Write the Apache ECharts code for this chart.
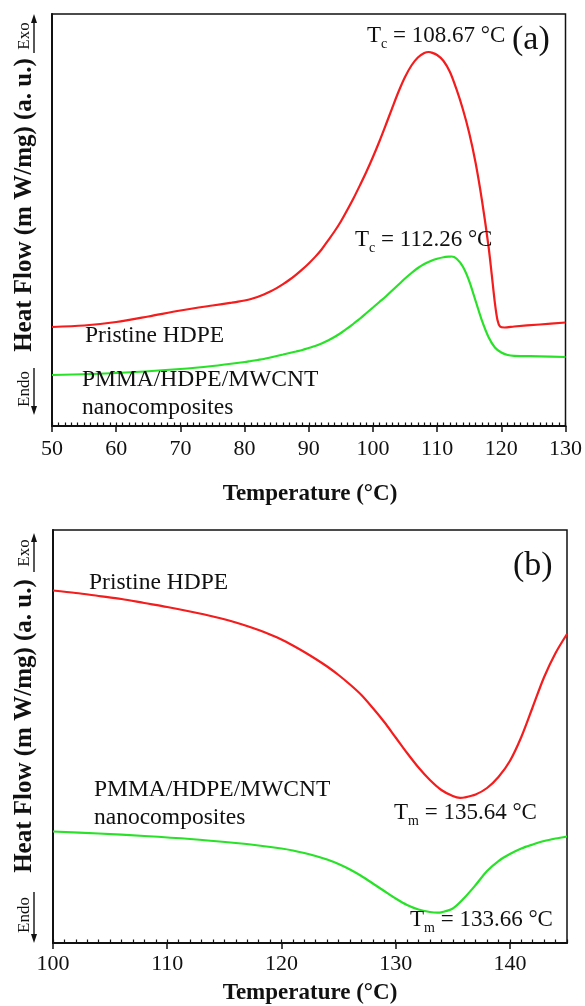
<!DOCTYPE html>
<html>
<head>
<meta charset="utf-8">
<script src="https://cdn.jsdelivr.net/npm/echarts@6/dist/echarts.min.js"></script>
<style>
  html, body { margin: 0; padding: 0; background: #fff; }
  #chart { width: 585px; height: 1006px; }
</style>
</head>
<body>
<div id="chart"></div>
<script>
// (a) cooling scans: temperature (°C) and heat flow (a. u.)
const coolTempHDPE = [50, 55, 60, 65, 70, 75, 78, 79, 80, 81, 82, 83, 84, 85, 86, 87, 88, 89, 90, 91, 92, 93, 94, 95, 96, 97, 98, 99, 100, 101, 102, 103, 104, 105, 106, 107, 108, 108.67, 109, 110, 111, 112, 113, 114, 115, 116, 117, 118, 118.5, 119, 119.4, 119.8, 120.5, 122, 126, 130];
const coolFlowHDPE = [24.03, 24.39, 25.24, 26.58, 28.03, 29.25, 29.93, 30.17, 30.46, 30.82, 31.30, 31.90, 32.62, 33.46, 34.42, 35.50, 36.70, 38.02, 39.46, 41.05, 42.85, 45.02, 47.21, 49.64, 52.43, 55.34, 58.50, 61.77, 65.29, 69.05, 73.06, 77.18, 81.19, 84.71, 87.50, 89.44, 90.53, 90.78, 90.70, 90.05, 88.59, 85.92, 81.80, 76.94, 71.12, 63.83, 54.61, 43.69, 36.89, 29.85, 25.73, 24.15, 23.91, 24.15, 24.64, 25.12];
const coolTempComp = [50, 60, 70, 75, 80, 81, 82, 83, 84, 85, 86, 87, 88, 89, 90, 91, 92, 93, 94, 95, 96, 97, 98, 99, 100, 101, 102, 103, 104, 105, 106, 107, 108, 109, 110, 111, 112, 112.26, 113, 114, 115, 116, 117, 118, 119, 120, 121, 122, 126, 130];
const coolFlowComp = [12.38, 12.86, 13.83, 14.56, 15.53, 15.78, 16.02, 16.26, 16.63, 16.99, 17.35, 17.72, 18.08, 18.45, 18.93, 19.42, 20.02, 20.75, 21.60, 22.57, 23.67, 24.88, 26.09, 27.43, 28.76, 30.10, 31.43, 32.89, 34.34, 35.80, 37.14, 38.35, 39.32, 40.05, 40.58, 40.95, 41.12, 41.14, 40.66, 38.71, 35.19, 30.34, 25.49, 21.60, 19.05, 17.84, 17.23, 17.04, 16.92, 16.75];

// (b) heating scans: temperature (°C) and heat flow (a. u.)
const heatTempHDPE = [100, 102, 104, 106, 108, 110, 112, 114, 116, 118, 119, 120, 121, 122, 123, 124, 125, 126, 127, 128, 129, 130, 131, 132, 133, 134, 135, 135.64, 136, 137, 138, 139, 140, 141, 142, 143, 144, 145];
const heatFlowHDPE = [85.35, 84.75, 84.02, 83.29, 82.32, 81.36, 80.27, 79.06, 77.60, 75.79, 74.70, 73.49, 72.03, 70.46, 68.77, 66.95, 64.89, 62.59, 60.05, 56.90, 53.51, 49.76, 46.00, 42.49, 39.47, 37.05, 35.59, 35.16, 35.23, 35.96, 37.53, 40.19, 44.07, 49.88, 57.14, 64.41, 70.22, 74.82];
const heatTempComp = [100, 104, 108, 112, 116, 118, 120, 121, 122, 123, 124, 125, 126, 127, 128, 129, 130, 131, 132, 133, 133.66, 134, 135, 136, 137, 138, 139, 140, 141, 142, 143, 144, 145];
const heatFlowComp = [27.00, 26.51, 25.91, 25.18, 24.21, 23.61, 22.88, 22.40, 21.79, 21.07, 20.22, 19.13, 17.80, 16.22, 14.41, 12.59, 10.77, 9.20, 8.11, 7.51, 7.34, 7.43, 8.35, 10.90, 14.04, 17.43, 19.85, 21.55, 22.88, 23.85, 24.70, 25.30, 25.79];

// axis ranges and tick step
const coolRange = [50, 130];
const heatRange = [100, 145];
const majorStep = 10;

// text
const sampleNames = ['Pristine HDPE', 'PMMA/HDPE/MWCNT\nnanocomposites'];
const xTitle = 'Temperature (°C)';
const yTitle = 'Heat Flow (m W/mg) (a. u.)';
const peakLabels = ['108.67', '112.26', '135.64', '133.66'];

const SERIF = '"Liberation Serif", "Times New Roman", serif';
const INK = '#111';
const RED = '#f41c1c';
const GREEN = '#28e228';

const chart = echarts.init(document.getElementById('chart'), null, { renderer: 'canvas' });

function zip(xs, ys) { return xs.map((x, i) => [x, ys[i]]); }

function xAxes(gridIndex, range, labelMargin) {
  return [
    {
      gridIndex, type: 'value', min: range[0], max: range[1], interval: majorStep,
      axisLine: { show: true, onZero: false, lineStyle: { color: INK, width: 2 } },
      axisTick: { show: true, length: 6, lineStyle: { color: INK, width: 1.5 } },
      axisLabel: { show: true, fontFamily: SERIF, fontSize: 22, color: INK, margin: labelMargin, showMaxLabel: range[1] % majorStep === 0 },
      splitLine: { show: false }
    },
    {
      gridIndex, type: 'value', min: range[0], max: range[1], interval: 1, offset: 0,
      axisLine: { show: false },
      axisTick: { show: true, length: 3.5, lineStyle: { color: INK, width: 1.2 } },
      axisLabel: { show: false },
      splitLine: { show: false }
    }
  ];
}

function yAxis(gridIndex) {
  return {
    gridIndex, type: 'value', min: 0, max: 100,
    axisLine: { show: true, lineStyle: { color: INK, width: 2 } },
    axisTick: { show: false }, axisLabel: { show: false }, splitLine: { show: false }
  };
}

function curve(name, xAxisIndex, yAxisIndex, data, color) {
  return {
    name, type: 'line', xAxisIndex, yAxisIndex, data,
    showSymbol: false, smooth: 0.3, silent: true,
    lineStyle: { color, width: 2.2 }, z: 3
  };
}

// rich text "T_sub = value °C"
function peakText(sub, value, x, y) {
  return {
    type: 'text', x, y, z: 10,
    style: {
      text: '{t|T}{s|' + sub + '}{t| = ' + value + ' °C}',
      fill: INK, verticalAlign: 'middle', textAlign: 'left',
      rich: {
        t: { fontFamily: SERIF, fontSize: 23, lineHeight: 30, fill: INK },
        s: { fontFamily: SERIF, fontSize: 14, lineHeight: 13, verticalAlign: 'bottom', fill: INK }
      }
    }
  };
}

function plainText(text, x, y, size, weight, extra) {
  return Object.assign({
    type: 'text', x, y, z: 10,
    style: {
      text, fill: INK, textAlign: 'left', verticalAlign: 'middle',
      font: (weight || 'normal') + ' ' + size + 'px ' + SERIF, lineHeight: 28
    }
  }, extra || {});
}

function rotated(text, x, y, size, weight) {
  return {
    type: 'text', x, y, rotation: Math.PI / 2, z: 10,
    style: { text, fill: INK, textAlign: 'center', verticalAlign: 'middle', font: weight + ' ' + size + 'px ' + SERIF }
  };
}

// Exo / Endo direction markers with underline arrows
function directionMarks(exoY, exoLine, endoY, endoLine) {
  const ax = 34;
  return [
    rotated('Exo', 25, exoY, 17, 'normal'),
    { type: 'line', z: 10, shape: { x1: ax, y1: exoLine[0], x2: ax, y2: exoLine[1] + 4 }, style: { stroke: INK, lineWidth: 1.4 } },
    { type: 'polygon', z: 10, shape: { points: [[ax, exoLine[1] - 3], [ax - 3, exoLine[1] + 6], [ax + 3, exoLine[1] + 6]] }, style: { fill: INK } },
    rotated('Endo', 25, endoY, 17, 'normal'),
    { type: 'line', z: 10, shape: { x1: ax, y1: endoLine[0], x2: ax, y2: endoLine[1] - 4 }, style: { stroke: INK, lineWidth: 1.4 } },
    { type: 'polygon', z: 10, shape: { points: [[ax, endoLine[1] + 3], [ax - 3, endoLine[1] - 6], [ax + 3, endoLine[1] - 6]] }, style: { fill: INK } }
  ];
}

const option = {
  backgroundColor: '#fff',
  animation: false,
  grid: [
    { left: 52, right: 17, top: 14, height: 412, show: true, borderColor: INK, borderWidth: 1.5, backgroundColor: 'transparent' },
    { left: 53, right: 18, top: 530, height: 413, show: true, borderColor: INK, borderWidth: 1.5, backgroundColor: 'transparent' }
  ],
  xAxis: [...xAxes(0, coolRange, 12), ...xAxes(1, heatRange, 10)],
  yAxis: [yAxis(0), yAxis(1)],
  series: [
    curve(sampleNames[0] + ' (cooling)', 0, 0, zip(coolTempHDPE, coolFlowHDPE), RED),
    curve(sampleNames[1] + ' (cooling)', 0, 0, zip(coolTempComp, coolFlowComp), GREEN),
    curve(sampleNames[0] + ' (heating)', 2, 1, zip(heatTempHDPE, heatFlowHDPE), RED),
    curve(sampleNames[1] + ' (heating)', 2, 1, zip(heatTempComp, heatFlowComp), GREEN)
  ],
  graphic: [
    // panel (a)
    peakText('c', peakLabels[0], 367, 36),
    peakText('c', peakLabels[1], 355, 240),
    plainText('(a)', 512, 40, 34, 'normal'),
    plainText(sampleNames[0], 85, 336, 23.5, 'normal'),
    plainText(sampleNames[1], 82, 394, 23.5, 'normal'),
    { type: 'text', x: 310, y: 494, z: 10, style: { text: xTitle, fill: INK, textAlign: 'center', verticalAlign: 'middle', font: 'bold 23px ' + SERIF } },
    rotated(yTitle, 25, 205, 25, 'bold'),
    ...directionMarks(36, [53, 17], 389, [368, 412]),
    // panel (b)
    plainText('(b)', 513, 566, 34, 'normal'),
    plainText(sampleNames[0], 89, 583, 23.5, 'normal'),
    plainText(sampleNames[1], 94, 804, 23.5, 'normal'),
    peakText('m', peakLabels[2], 394, 813),
    peakText('m', peakLabels[3], 410, 920),
    { type: 'text', x: 310, y: 993, z: 10, style: { text: xTitle, fill: INK, textAlign: 'center', verticalAlign: 'middle', font: 'bold 23px ' + SERIF } },
    rotated(yTitle, 25, 726, 25, 'bold'),
    ...directionMarks(553, [572, 536], 915, [892, 940])
  ]
};

chart.setOption(option);
</script>
</body>
</html>
